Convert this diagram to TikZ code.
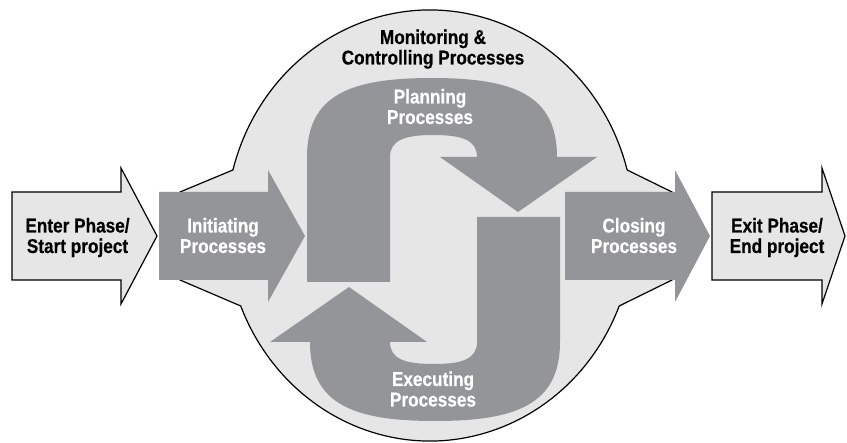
\documentclass[tikz,border=0pt]{standalone}
\usepackage{fontspec}
\setmainfont{Liberation Sans}[FakeStretch=0.86, BoldFeatures={FakeBold=0.4}]
\definecolor{lightgr}{HTML}{E6E6E7}
\definecolor{procgr}{HTML}{939598}

\begin{document}
\begin{tikzpicture}[x=1pt, y=-1pt,
  phase/.style = {draw, line width=1.2pt, fill=lightgr},
  proc/.style = {fill=procgr},
  lbl/.style = {align=center, inner sep=0pt, text height=34pt, text depth=0pt, font=\bfseries\fontsize{20}{20.5}\selectfont},
  wlbl/.style = {lbl, text=white}]
  \useasboundingbox (0,0) rectangle (847,443);
  \path[phase] (180,192) -- (232.9,170) arc[start angle=194.92, end angle=345.08, x radius=204, y radius=215.5]
    -- (672,192) -- (672,280) -- (619.2,306) arc[start angle=21.93, end angle=158.07, x radius=204, y radius=215.5]
    -- (180,280) -- cycle;
  \foreach \s/\x/\b/\t/\h in {phase/12/121/157/168, proc/159/268/305/170, proc/565/675/710/170, phase/712/822/845/168}
    \path[\s] (\x,192) -- (\b,192) -- (\b,\h) -- (\t,236) -- (\b,{472-\h}) -- (\b,280) -- (\x,280) -- cycle;
  \foreach \r in {0,180}
    \path[proc, rotate around={\r:(433.5,249.5)}] (307,282) -- (307,157) .. controls (307,95) and (350,78) .. (432,78)
      .. controls (514,78) and (557,95) .. (557,157) -- (597,157) -- (518,212) -- (440,157) -- (477,157)
      .. controls (477,140) and (462,135) .. (433,135) .. controls (405,135) and (390,140) .. (390,157) -- (390,282) -- cycle;
  \node[lbl] (enter) at (77.5,236) {Enter Phase/\\Start project};
  \node[wlbl] (initiating) at (223,236) {Initiating\\Processes};
  \node[lbl] (monitoring) at (433,47.5) {Monitoring \&\\Controlling Processes};
  \node[wlbl] (planning) at (430,107) {Planning\\Processes};
  \node[wlbl] (executing) at (433,389.5) {Executing\\Processes};
  \node[wlbl] (closing) at (634,236) {Closing\\Processes};
  \node[lbl] (exit) at (777,236) {Exit Phase/\\End project};
\end{tikzpicture}
\end{document}
